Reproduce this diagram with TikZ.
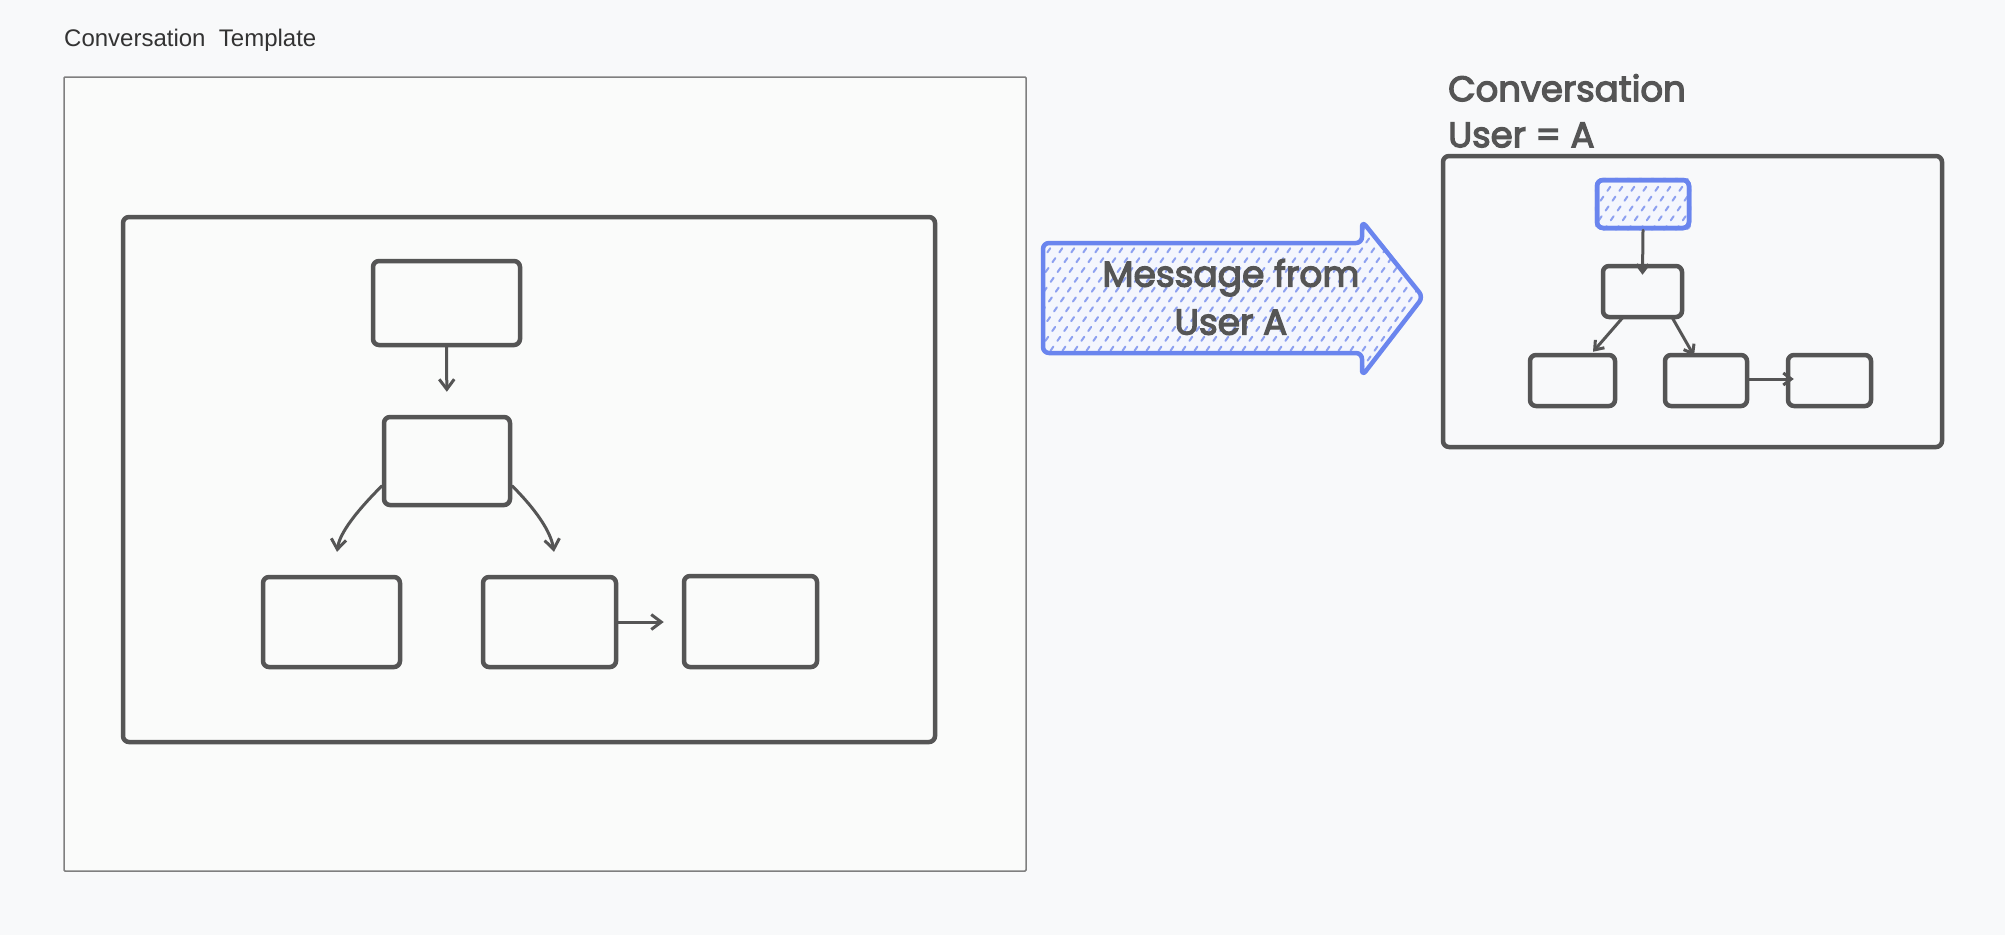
\documentclass[tikz,border=0pt]{standalone}
\usepackage{fontspec}
\setmainfont{Liberation Sans}
\newfontfamily\hand[FakeBold=3.5]{Poppins}
\usetikzlibrary{arrows.meta,calc}
\definecolor{bg}{HTML}{F8F9FA}
\definecolor{panel}{HTML}{FAFBFA}
\definecolor{ink}{HTML}{555555}
\definecolor{framec}{HTML}{7F7F7F}
\definecolor{blu}{HTML}{6A85EE}
\definecolor{bluhatch}{HTML}{8DA0F0}
\definecolor{blufill}{HTML}{F4F6FD}
\definecolor{titlec}{HTML}{333333}
\begin{document}
\begin{tikzpicture}[x=1pt,y=1pt,
  bx/.style={draw=ink, line width=4.5pt, rounded corners=6pt, rectangle, inner sep=0pt},
  arr/.style={draw=ink, line width=3pt, line cap=round, -{Straight Barb[length=10pt,width=15pt]}},
  sarr/.style={draw=ink, line width=3pt, line cap=round, -{Straight Barb[length=8pt,width=12pt]}},
  hatch/.style={draw=bluhatch, line width=2pt, dash pattern=on 5pt off 7pt, line cap=round}
]
\useasboundingbox (0,0) rectangle (2005,-935);
\fill[bg] (0,0) rectangle (2005,-935);

% title
\node[anchor=base west, inner sep=0pt, font=\fontsize{24}{28}\selectfont, text=titlec] (title) at (64,-46) {Conversation\ \ Template};

% template frame
\node[draw=framec, line width=1.5pt, rounded corners=1pt, fill=panel, minimum width=962pt, minimum height=794pt, inner sep=0pt] (tmpl) at (545,-474) {};

% inner frame
\node[bx, minimum width=812pt, minimum height=525pt] (inner) at (529,-479.5) {};

% left diagram boxes
\node[bx, minimum width=147pt, minimum height=84pt] (top) at (446.5,-303) {};
\node[bx, minimum width=126pt, minimum height=88pt] (mid) at (447,-461) {};
\node[bx, minimum width=137pt, minimum height=90pt] (bl) at (331.5,-622) {};
\node[bx, minimum width=133pt, minimum height=90pt] (bm) at (549.5,-622) {};
\node[bx, minimum width=133pt, minimum height=91pt] (br) at (750.5,-621.5) {};

\draw[arr, shorten >=23pt] (top.south) -- (mid.north);
\draw[arr] ([yshift=-25pt]mid.west) .. controls +(225:44) and +(82:16) .. ([xshift=5.5pt, yshift=23pt]bl.north);
\draw[arr] ([yshift=-25pt]mid.east) .. controls +(-45:42) and +(99:16) .. ([xshift=4.5pt, yshift=23pt]bm.north);
\draw[arr, shorten >=18pt] (bm.east) -- (br.west |- bm.east);

% big blue arrow
\path[fill=blufill, rounded corners=6pt] (1043,-243) -- (1362,-243) -- (1362,-221) -- (1423,-297) -- (1362,-376) -- (1362,-353) -- (1043,-353) -- cycle;
\begin{scope}
\clip[rounded corners=6pt] (1043,-243) -- (1362,-243) -- (1362,-221) -- (1423,-297) -- (1362,-376) -- (1362,-353) -- (1043,-353) -- cycle;
\foreach \k in {-260,-248,...,420} \draw[hatch] (1043+\k,-390) -- ++(55:260);
\end{scope}
\draw[draw=blu, line width=4.5pt, rounded corners=6pt, line join=round] (1043,-243) -- (1362,-243) -- (1362,-221) -- (1423,-297) -- (1362,-376) -- (1362,-353) -- (1043,-353) -- cycle;
\node[font=\hand\fontsize{36}{48}\selectfont, text=ink, align=center, inner sep=0pt] (msg) at (1231,-297) {Message from\\User A};

% right conversation
\node[anchor=north west, inner sep=0pt, align=left, font=\hand\fontsize{35.5}{46}\selectfont, text=ink] (conv) at (1448,-74) {Conversation\\User = A};
\node[bx, minimum width=499pt, minimum height=291pt] (cframe) at (1692.5,-301.5) {};

\node[bx, draw=blu, fill=blufill, minimum width=92pt, minimum height=48pt] (t2) at (1643,-204) {};
\begin{scope}
\clip[rounded corners=6pt] (t2.south west) rectangle (t2.north east);
\foreach \k in {-60,-48,...,110} \draw[hatch] (1597+\k,-240) -- ++(55:90);
\end{scope}
\node[bx, draw=blu, minimum width=92pt, minimum height=48pt] at (t2) {};

\node[bx, minimum width=79pt, minimum height=51pt] (m2) at (1642.5,-291.5) {};
\node[bx, minimum width=85pt, minimum height=51pt] (l2) at (1572.5,-380.5) {};
\node[bx, minimum width=82pt, minimum height=51pt] (c2) at (1706,-380.5) {};
\node[bx, minimum width=83pt, minimum height=51pt] (r2) at (1829.5,-380.5) {};

\draw[sarr] (t2.south) -- ([yshift=-11pt]m2.north);
\draw[sarr] ([xshift=-19.5pt, yshift=2pt]m2.south) -- ([xshift=20.5pt, yshift=1pt]l2.north);
\draw[sarr] ([xshift=29.5pt, yshift=2pt]m2.south) -- ([xshift=-12pt, yshift=-3pt]c2.north);
\draw[sarr] ([yshift=1.5pt]c2.east) -- ([xshift=8pt, yshift=1.5pt]r2.west);
\end{tikzpicture}
\end{document}
